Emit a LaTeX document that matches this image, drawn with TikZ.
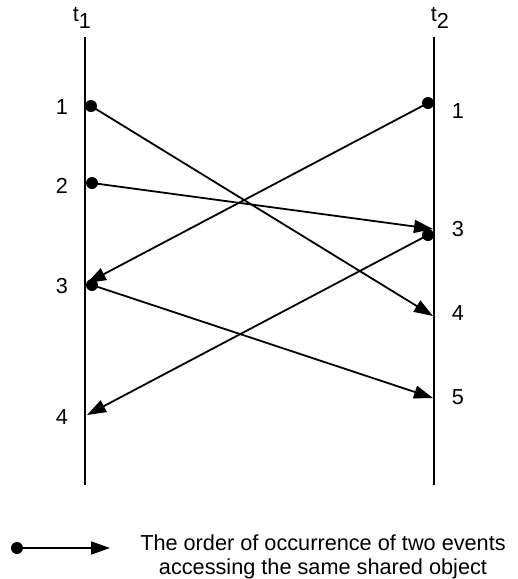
\documentclass[tikz,border=0pt]{standalone}
\usepackage{fontspec}
\setmainfont{Liberation Sans}
\usetikzlibrary{arrows.meta}
\begin{document}
\begin{tikzpicture}[x=1pt,y=-1pt,
  timeline/.style={line width=2pt},
  msg/.style={line width=1.8pt,-{Triangle[length=19pt,width=13pt]}},
  evdot/.style={circle,fill=black,inner sep=0pt,minimum size=12pt},
  lbl/.style={font=\fontsize{21.7}{23.5}\selectfont,inner sep=0pt}]
\useasboundingbox (0,0) rectangle (518,579);
% timelines
\coordinate (L0) at (85,37); \coordinate (L1) at (85,485);
\coordinate (R0) at (434,37); \coordinate (R1) at (434,485);
\draw[timeline] (L0) -- (L1);
\draw[timeline] (R0) -- (R1);
\node[lbl] (t1) at (82,18) {t\raisebox{-7pt}{1}};
\node[lbl] (t2) at (440,18) {t\raisebox{-7pt}{2}};
% event dots
\node[evdot] (a1) at (91,106) {};
\node[evdot] (a2) at (92,183) {};
\node[evdot] (a3) at (92,285) {};
\node[evdot] (b1) at (428,103) {};
\node[evdot] (b3) at (428,235) {};
% arrow targets
\coordinate (ta3) at (87,283);
\coordinate (ta4) at (87,415);
\coordinate (tb3) at (433,229);
\coordinate (tb4) at (433,316);
\coordinate (tb5) at (433,398);
% labels
\node[lbl] (la1) at (62,107) {1};
\node[lbl] (la2) at (62,186) {2};
\node[lbl] (la3) at (62,286) {3};
\node[lbl] (la4) at (62,417) {4};
\node[lbl] (lb1) at (458,111) {1};
\node[lbl] (lb3) at (458,229) {3};
\node[lbl] (lb4) at (458,313) {4};
\node[lbl] (lb5) at (458,397) {5};
% messages
\draw[msg] (a1.center) -- (tb4);
\draw[msg] (b1.center) -- (ta3);
\draw[msg] (a2.center) -- (tb3);
\draw[msg] (b3.center) -- (ta4);
\draw[msg] (a3.center) -- (tb5);
% legend
\node[evdot] (kd) at (17,548) {};
\coordinate (ke) at (110,548);
\draw[msg] (kd.center) -- (ke);
\node[lbl,align=center] (kt) at (323,557) {The order of occurrence of two events\\accessing the same shared object};
\end{tikzpicture}
\end{document}
